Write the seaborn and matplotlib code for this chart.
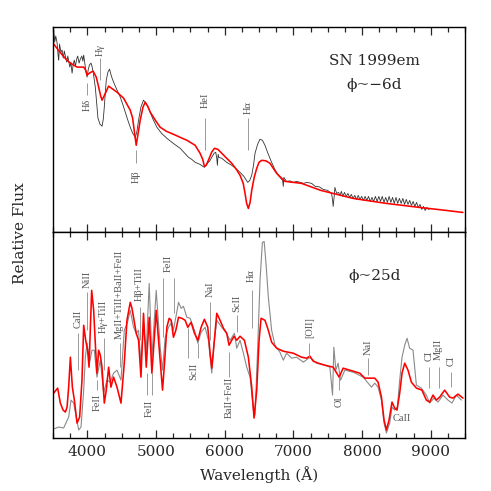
import matplotlib
matplotlib.use("Agg")
import matplotlib.pyplot as plt
import numpy as np
import pandas as pd
import seaborn as sns
from matplotlib.ticker import MultipleLocator

# SN 1999em, phase ~ -6d : observed spectrum
wave_obs_early = [3510, 3525, 3540, 3560, 3575, 3583, 3595, 3615, 3632, 3650,
                  3665, 3680, 3700, 3715, 3728, 3745, 3760, 3778, 3795, 3810,
                  3826, 3845, 3860, 3880, 3898, 3920, 3935, 3947, 3965, 3975,
                  3996, 4012, 4030, 4054, 4070, 4085, 4100, 4116, 4135, 4155,
                  4185, 4214, 4232, 4247, 4262, 4276, 4300, 4324, 4350, 4382,
                  4420, 4480, 4520, 4552, 4590, 4625, 4660, 4698, 4720, 4746,
                  4780, 4818, 4850, 4891, 4950, 5013, 5080, 5158, 5250, 5352,
                  5420, 5473, 5520, 5570, 5640, 5705, 5750, 5788, 5830, 5845,
                  5870, 5885, 5894, 5905, 5915, 5958, 6030, 6103, 6160, 6224,
                  6280, 6336, 6365, 6394, 6420, 6442, 6480, 6514, 6550, 6587,
                  6630, 6684, 6730, 6781, 6820, 6844, 6854, 6862, 6880, 6900,
                  6950, 7000, 7050, 7100, 7150, 7200, 7266, 7320, 7380, 7435,
                  7500, 7557, 7572, 7580, 7595, 7605, 7630, 7660, 7680, 7700,
                  7720, 7745, 7770, 7795, 7820, 7845, 7870, 7895, 7920, 7945,
                  7970, 7995, 8020, 8045, 8070, 8095, 8120, 8145, 8170, 8195,
                  8220, 8245, 8270, 8295, 8320, 8345, 8370, 8395, 8420, 8445,
                  8470, 8495, 8520, 8545, 8570, 8595, 8620, 8645, 8670, 8695,
                  8720, 8745, 8770, 8795, 8820, 8845, 8870, 8895, 8920, 8945,
                  8970, 8990]
flux_obs_early = [20.2, 19.0, 19.6, 18.9, 17.6, 17.2, 18.8, 18.0, 18.2, 17.4,
                  18.1, 17.6, 17.0, 17.6, 17.1, 16.5, 17.0, 15.9, 16.8, 17.2,
                  16.6, 17.3, 17.6, 16.9, 17.3, 17.6, 17.1, 17.7, 16.8, 16.3,
                  15.5, 16.2, 16.7, 16.9, 16.5, 16.0, 15.3, 14.5, 13.0, 11.4,
                  10.8, 10.6, 11.3, 12.5, 14.0, 15.2, 16.0, 16.3, 15.6, 15.0,
                  14.4, 13.5, 12.7, 12.0, 11.2, 10.5, 9.9, 9.5, 10.0, 11.2,
                  12.5, 13.2, 12.9, 12.4, 11.4, 10.5, 9.9, 9.4, 8.9, 8.4,
                  7.9, 7.5, 7.3, 7.0, 6.8, 6.5, 6.9, 7.2, 7.7, 7.9,
                  8.0, 7.4, 6.7, 7.8, 7.5, 7.4, 7.0, 6.7, 6.4, 6.0,
                  5.6, 5.0, 5.2, 5.7, 6.7, 7.9, 8.8, 9.3, 9.2, 8.7,
                  7.9, 7.0, 6.3, 5.7, 5.4, 5.2, 4.6, 5.5, 5.3, 5.1,
                  5.15, 5.0, 5.1, 5.0, 4.9, 5.0, 4.9, 4.6, 4.55, 4.3,
                  4.2, 3.9, 3.2, 2.6, 3.6, 4.5, 3.9, 4.0, 3.7, 4.1,
                  3.6, 4.0, 3.6, 3.9, 3.5, 3.8, 3.4, 3.7, 3.3, 3.7,
                  3.3, 3.6, 3.2, 3.6, 3.2, 3.6, 3.1, 3.5, 3.1, 3.6,
                  3.1, 3.6, 3.1, 3.6, 3.0, 3.5, 3.0, 3.6, 3.0, 3.5,
                  2.9, 3.5, 2.9, 3.4, 2.9, 3.4, 2.8, 3.3, 2.8, 3.2,
                  2.7, 3.1, 2.6, 3.0, 2.5, 2.8, 2.3, 2.6, 2.2, 2.5,
                  2.3, 2.4]

# phase ~ -6d : model spectrum
wave_mod_early = [3510, 3600, 3700, 3753, 3850, 3947, 3975, 3996, 4030, 4083,
                  4130, 4165, 4195, 4214, 4250, 4310, 4432, 4528, 4625, 4660,
                  4690, 4712, 4740, 4770, 4810, 4843, 4880, 4916, 5000, 5061,
                  5150, 5254, 5350, 5450, 5570, 5642, 5680, 5705, 5730, 5763,
                  5810, 5851, 5900, 5958, 6030, 6103, 6170, 6224, 6270, 6297,
                  6320, 6345, 6370, 6394, 6430, 6467, 6500, 6539, 6600, 6660,
                  6757, 6878, 7000, 7120, 7400, 7872, 8356, 8840, 9228, 9470]
flux_mod_early = [18.8, 18.0, 17.2, 16.9, 16.5, 16.5, 16.2, 15.7, 15.9, 16.1,
                  15.5, 14.5, 13.6, 13.2, 13.7, 14.6, 14.0, 13.4, 12.2, 11.4,
                  9.8, 8.7, 9.9, 11.2, 12.5, 13.0, 12.6, 12.0, 11.1, 10.5,
                  10.1, 9.8, 9.5, 9.2, 8.7, 7.9, 7.3, 6.6, 6.7, 7.2,
                  8.0, 8.4, 8.3, 7.9, 7.4, 6.9, 6.3, 5.7, 4.9, 3.9,
                  2.9, 2.4, 3.0, 4.2, 5.5, 6.4, 7.0, 7.2, 7.15, 6.9,
                  5.9, 5.1, 5.0, 4.9, 4.2, 3.4, 2.9, 2.5, 2.2, 2.0]

# phase ~ 25d : observed spectrum
wave_obs_late = [3510, 3583, 3655, 3728, 3763, 3801, 3874, 3908, 3947, 3971,
                 3996, 4034, 4068, 4102, 4140, 4189, 4237, 4286, 4334, 4382,
                 4432, 4490, 4538, 4586, 4625, 4673, 4712, 4746, 4781, 4818,
                 4858, 4901, 4940, 5003, 5061, 5095, 5134, 5182, 5230, 5254,
                 5289, 5328, 5366, 5400, 5449, 5497, 5560, 5609, 5657, 5715,
                 5763, 5812, 5851, 5885, 5958, 6016, 6079, 6142, 6176, 6224,
                 6273, 6321, 6370, 6418, 6442, 6481, 6515, 6549, 6575, 6602,
                 6636, 6684, 6733, 6805, 6854, 6902, 6975, 7048, 7145, 7241,
                 7338, 7459, 7532, 7571, 7590, 7619, 7652, 7688, 7750, 7872,
                 8017, 8138, 8186, 8234, 8283, 8321, 8356, 8404, 8437, 8476,
                 8515, 8549, 8583, 8622, 8656, 8694, 8743, 8792, 8864, 8937,
                 8985, 9048, 9107, 9180, 9252, 9310, 9374, 9447]
flux_obs_late = [0.9, 1.1, 1.0, 2.1, 3.8, 3.5, 0.8, 1.1, 4.8, 8.1,
                 9.5, 7.6, 8.8, 8.8, 6.1, 7.8, 4.5, 5.8, 5.6, 6.5,
                 6.8, 5.8, 10.8, 11.6, 12.8, 11.1, 10.5, 10.8, 7.5, 11.1,
                 8.8, 15.5, 8.1, 14.8, 9.1, 6.8, 10.1, 11.1, 11.6, 10.8,
                 12.1, 13.6, 13.0, 13.2, 12.1, 12.0, 10.8, 9.5, 10.6, 11.1,
                 9.8, 6.5, 9.8, 11.8, 11.1, 10.6, 9.8, 10.5, 9.0, 9.8,
                 8.5, 7.1, 6.1, 2.8, 2.3, 9.1, 15.8, 19.6, 19.7, 17.5,
                 14.1, 10.8, 9.3, 8.6, 7.8, 8.5, 8.0, 8.1, 7.6, 8.1,
                 7.5, 7.3, 7.1, 4.3, 9.1, 6.8, 7.5, 5.8, 6.8, 6.6,
                 6.1, 5.1, 5.5, 5.1, 3.8, 1.5, 0.5, 1.5, 3.1, 2.8,
                 3.1, 5.8, 8.1, 9.3, 10.0, 9.0, 8.8, 5.3, 5.0, 4.3,
                 3.5, 4.0, 3.6, 4.3, 3.8, 3.5, 4.3, 3.8]

# phase ~ 25d : model spectrum
wave_mod_late = [3510, 3568, 3607, 3647, 3680, 3705, 3728, 3753, 3782, 3811,
                 3850, 3888, 3922, 3947, 3976, 4004, 4025, 4043, 4063, 4092,
                 4116, 4140, 4165, 4189, 4214, 4247, 4276, 4310, 4344, 4382,
                 4432, 4490, 4538, 4577, 4625, 4650, 4673, 4712, 4746, 4781,
                 4818, 4858, 4901, 4940, 5003, 5037, 5095, 5124, 5158, 5192,
                 5221, 5254, 5289, 5328, 5376, 5424, 5463, 5511, 5560, 5609,
                 5657, 5705, 5754, 5788, 5812, 5846, 5885, 5933, 5982, 6030,
                 6064, 6103, 6137, 6176, 6224, 6287, 6345, 6394, 6428, 6467,
                 6501, 6530, 6587, 6636, 6684, 6757, 6854, 6999, 7120, 7193,
                 7241, 7290, 7362, 7459, 7580, 7667, 7725, 7822, 7968, 8041,
                 8186, 8234, 8283, 8321, 8356, 8394, 8437, 8476, 8510, 8549,
                 8583, 8622, 8670, 8719, 8792, 8873, 8937, 8985, 9034, 9082,
                 9131, 9204, 9276, 9325, 9398, 9470]
flux_mod_late = [4.5, 5.0, 3.5, 2.8, 2.6, 3.1, 5.1, 8.1, 5.1, 3.8,
                 1.5, 2.1, 5.8, 11.3, 9.8, 8.8, 7.1, 10.8, 14.8, 12.8,
                 9.5, 6.5, 8.8, 8.3, 7.1, 3.5, 4.8, 7.1, 5.1, 6.1,
                 5.1, 3.5, 7.5, 11.8, 13.6, 13.0, 12.1, 10.5, 9.8, 6.1,
                 12.5, 7.1, 12.1, 6.5, 12.8, 9.8, 4.8, 7.5, 11.1, 12.0,
                 11.8, 10.1, 10.8, 12.1, 12.0, 11.8, 11.1, 11.6, 10.5, 9.8,
                 11.1, 11.9, 11.1, 8.5, 7.0, 9.5, 12.5, 11.8, 11.0, 10.5,
                 9.3, 9.8, 10.2, 9.8, 10.2, 9.8, 8.1, 5.1, 2.0, 4.8,
                 9.8, 12.0, 11.8, 10.8, 9.6, 9.0, 8.7, 8.5, 8.1, 8.0,
                 8.2, 7.7, 7.5, 7.3, 7.1, 6.1, 7.0, 6.8, 6.5, 6.0,
                 6.0, 5.6, 4.1, 1.8, 0.8, 1.8, 3.6, 3.0, 2.8, 4.5,
                 6.5, 7.5, 6.8, 5.6, 5.0, 4.8, 3.8, 3.6, 4.3, 3.8,
                 4.1, 4.8, 4.1, 4.0, 4.4, 4.0]

# line identifications (top panel)
top_names = ["Hδ", "Hγ", "Hβ", "HeI", "Hα"]
top_wave = [3996, 4189, 4712, 5715, 6340]
top_text_y = [12.75, 18.2, 5.6, 13.2, 12.5]
top_tick_lo = [13.7, 15.2, 6.9, 8.2, 8.2]
top_tick_hi = [14.9, 17.4, 8.2, 11.4, 11.4]

# line identifications (bottom panel)
bot_names = ["CaII", "NiII", "FeII", "Hγ+TiII", "MgII+TiII+BaII+FeII", "Hβ+TiII",
             "FeII", "FeII", "ScII", "NaI", "BaII+FeII", "ScII", "Hα", "[OII]",
             "OI", "NaI", "CI", "MgII", "CI"]
bot_text_wave = [3859, 3996, 4141, 4237, 4469, 4760, 4905, 5182, 5545, 5788,
                 6064, 6176, 6394, 7235, 7672, 8089, 8971, 9116, 9291]
bot_text_y = [11.9, 15.85, 3.6, 12.15, 14.4, 15.4, 2.95, 17.45, 6.65, 14.95,
              4.1, 13.45, 16.25, 11.05, 3.6, 9.05, 8.2, 8.9, 7.7]
bot_tick_wave = [3859, 3996, 4141, 4237, 4469, 4760, 4868, 4940, 5109, 5265, 5464,
                 5609, 5788, 6064, 6176, 6394, 7235, 7672, 8089, 8971, 9116, 9291]
bot_tick_lo = [6.8, 10.8, 4.8, 6.8, 7.1, 9.8, 4.3, 4.3, 10.1, 12.5, 8.0,
               8.0, 9.8, 6.1, 10.6, 11.0, 8.0, 4.8, 6.3, 5.0, 5.0, 5.1]
bot_tick_hi = [10.5, 14.6, 5.8, 10.0, 9.5, 13.1, 6.5, 6.5, 16.0, 16.0, 11.0,
               9.5, 13.6, 8.6, 12.3, 14.8, 9.5, 6.1, 8.0, 7.1, 7.1, 6.6]

sns.set_style("ticks")
plt.rcParams['font.family'] = ['DejaVu Serif']

fig, (ax1, ax2) = plt.subplots(2, 1, sharex=True, figsize=(4.91, 4.91), dpi=100)
fig.subplots_adjust(left=53 / 491, right=465 / 491, top=1 - 27 / 491,
                    bottom=1 - 438 / 491, hspace=0)

early_obs = pd.DataFrame({"wave": wave_obs_early, "flux": flux_obs_early})
early_mod = pd.DataFrame({"wave": wave_mod_early, "flux": flux_mod_early})
late_obs = pd.DataFrame({"wave": wave_obs_late, "flux": flux_obs_late})
late_mod = pd.DataFrame({"wave": wave_mod_late, "flux": flux_mod_late})

sns.lineplot(data=early_obs, x="wave", y="flux", ax=ax1, color="#333333", lw=0.6,
             estimator=None, sort=False)
sns.lineplot(data=early_mod, x="wave", y="flux", ax=ax1, color="#ff0000", lw=1.15,
             estimator=None, sort=False)
sns.lineplot(data=late_obs, x="wave", y="flux", ax=ax2, color="#8a8a8a", lw=0.8,
             estimator=None, sort=False)
sns.lineplot(data=late_mod, x="wave", y="flux", ax=ax2, color="#ff0000", lw=1.15,
             estimator=None, sort=False)

lab_kw = dict(rotation=90, ha="center", va="center", fontsize=7.5,
              color="#555555", family="Liberation Serif")
ax1.vlines(top_wave, top_tick_lo, top_tick_hi, color="#999999", lw=0.7)
for name, w, ty in zip(top_names, top_wave, top_text_y):
    ax1.text(w, ty, name, **lab_kw)
ax2.vlines(bot_tick_wave, bot_tick_lo, bot_tick_hi, color="#999999", lw=0.7)
for name, w, ty in zip(bot_names, bot_text_wave, bot_text_y):
    ax2.text(w, ty, name, **lab_kw)
ax2.text(8450, 2.0, "CaII", ha="left", va="center", fontsize=7.5,
         color="#555555", family="Liberation Serif")

ax1.text(0.78, 0.834, "SN 1999em", transform=ax1.transAxes, ha="center",
         va="center", fontsize=11)
ax1.text(0.78, 0.717, "ϕ~−6d", transform=ax1.transAxes, ha="center",
         va="center", fontsize=11)
ax2.text(0.78, 0.786, "ϕ~25d", transform=ax2.transAxes, ha="center",
         va="center", fontsize=11)

ax1.set_ylim(0, 20.5)
ax2.set_ylim(0, 20.6)
for ax in (ax1, ax2):
    ax.set_xlim(3500, 9500)
    ax.xaxis.set_major_locator(MultipleLocator(1000))
    ax.xaxis.set_minor_locator(MultipleLocator(250))
    ax.tick_params(which="both", direction="in", top=True, bottom=True,
                   left=False, right=False, labelleft=False, width=0.9)
    ax.tick_params(which="major", length=6, labelsize=11, pad=5)
    ax.tick_params(which="minor", length=3.5)
    ax.set_yticks([])
    ax.set_ylabel("")
    for sp in ax.spines.values():
        sp.set_visible(True)
        sp.set_linewidth(1.0)
        sp.set_color("black")
ax1.set_xlabel("")
ax1.tick_params(labelbottom=False)
ax2.set_xlabel("Wavelength (Å)", fontsize=11, labelpad=5)
fig.text(20 / 491, 0.526, "Relative Flux", rotation=90, ha="center",
         va="center", fontsize=11)

fig.savefig("out.png", dpi=100)
